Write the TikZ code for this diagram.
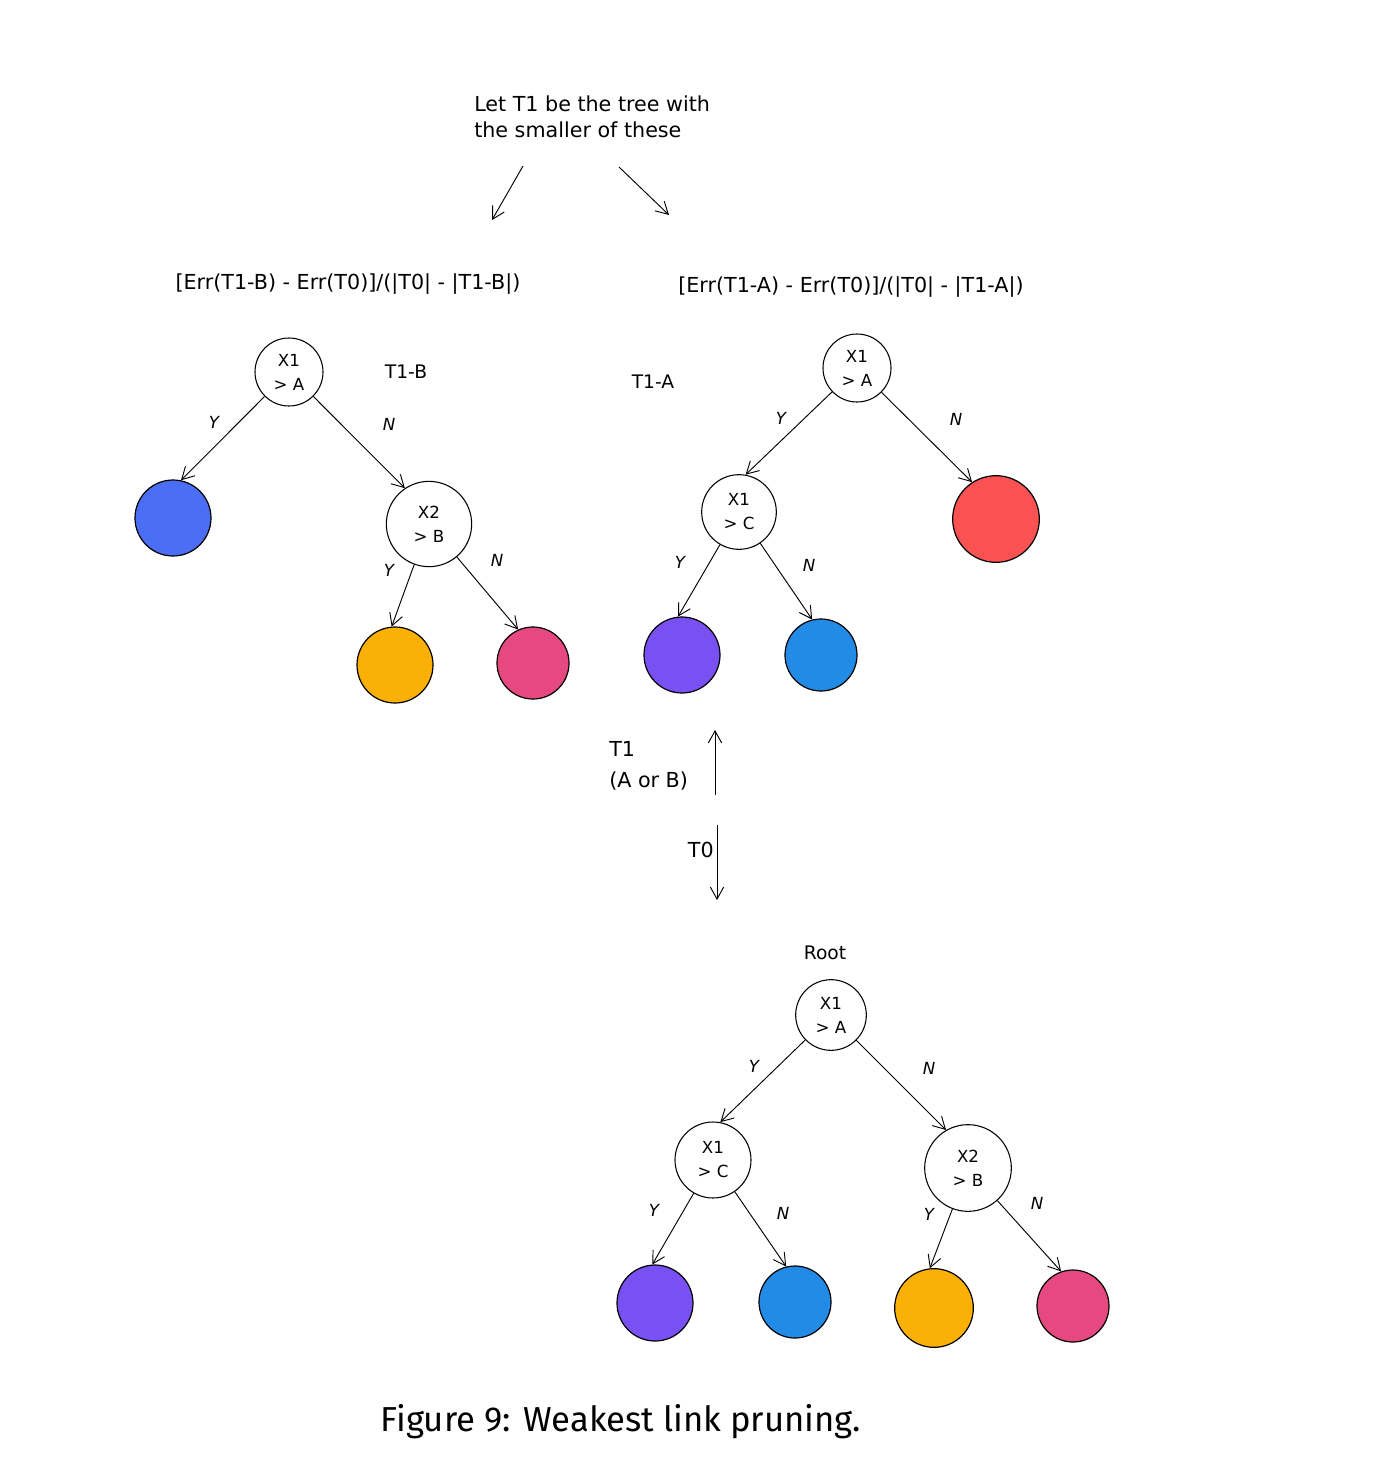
\documentclass[tikz,border=0pt]{standalone}
\usepackage{fontspec}
\setmainfont{DejaVu Sans}
\newfontfamily\capfont{Fira Sans}
\usepackage{tikz}
\usetikzlibrary{positioning, arrows.meta}
\definecolor{leafblue}{HTML}{4C6EF5}
\definecolor{leafsky}{HTML}{228BE6}
\definecolor{leafviolet}{HTML}{7950F2}
\definecolor{leafred}{HTML}{FA5252}
\definecolor{leafpink}{HTML}{E64980}
\definecolor{leaforange}{HTML}{FAB005}

\begin{document}
\begin{tikzpicture}[
  x=0.75pt, y=-0.75pt,
  hand/.style={font=\fontsize{15.5}{19}\selectfont, align=left, inner sep=0pt},
  dec/.style={draw, circle, line width=0.8pt, minimum size=52pt, inner sep=0pt,
              align=center, font=\fontsize{12.5}{18}\selectfont},
  leaf/.style={draw, circle, line width=0.9pt, minimum size=57pt, inner sep=0pt},
  yn/.style={font=\fontsize{12.5}{14}\selectfont\itshape, inner sep=0pt},
  arr/.style={-{Straight Barb[length=9pt, width=10pt]}, line width=0.7pt},
]
  \useasboundingbox (0,0) rectangle (1398,1464);

  % Note on top
  \node[hand, anchor=north west] (note) at (474,96)
    {Let T1 be the tree with\\the smaller of these};
  \coordinate (noteL1) at (523,166);
  \coordinate (noteL2) at (492,220);
  \coordinate (noteR1) at (619,167);
  \coordinate (noteR2) at (669,215);
  \draw[arr] (noteL1) -- (noteL2);
  \draw[arr] (noteR1) -- (noteR2);

  % Ratios
  \node[hand] (ratioB) at (348,284) {[Err(T1-B) - Err(T0)]/(|T0| - |T1-B|)};
  \node[hand] (ratioA) at (851,287) {[Err(T1-A) - Err(T0)]/(|T0| - |T1-A|)};

  % Pruned tree T1-B (LEFT)
  \node[hand, font=\fontsize{14}{16}\selectfont] (nameB) at (406,372) {T1-B};
  \node[dec, minimum size=51pt] (b0) at (289,372) {X1\\> A};
  \node[leaf, fill=leafblue] (b1) at (173,518) {};
  \node[dec, minimum size=64pt] (b2) at (429,524) {X2\\> B};
  \node[leaf, fill=leaforange] (b3) at (395,665) {};
  \node[leaf, fill=leafpink, minimum size=54pt] (b4) at (533,663) {};

  \draw[arr] (b0) -- (b1.78);
  \draw[arr] (b0) -- (b2.124);
  \draw[arr] (b2) -- (b3.95);
  \draw[arr] (b2) -- (b4.114);

  \node[yn] (bY1) at (214,422) {Y};
  \node[yn] (bN1) at (389,424) {N};
  \node[yn] (bY2) at (389,570) {Y};
  \node[yn] (bN2) at (497,560) {N};

  % Pruned tree T1-A (RIGHT)
  \node[hand, font=\fontsize{14}{16}\selectfont] (nameA) at (653,382) {T1-A};
  \node[dec, minimum size=51pt] (a0) at (857,368) {X1\\> A};
  \node[dec, minimum size=56pt] (a1) at (739,512) {X1\\> C};
  \node[leaf, fill=leafred, minimum size=65pt] (a2) at (996,519) {};
  \node[leaf, fill=leafviolet] (a3) at (682,655) {};
  \node[leaf, fill=leafsky, minimum size=54pt] (a4) at (821,655) {};

  \draw[arr] (a0) -- (a1.80);
  \draw[arr] (a0) -- (a2.123);
  \draw[arr] (a1) -- (a3.96);
  \draw[arr] (a1) -- (a4.104);

  \node[yn] (aY1) at (781,418) {Y};
  \node[yn] (aN1) at (956,419) {N};
  \node[yn] (aY2) at (680,562) {Y};
  \node[yn] (aN2) at (809,565) {N};

  % T0 <-> T1
  \coordinate (upS) at (715,795);
  \coordinate (upE) at (715,730);
  \coordinate (downS) at (717,825);
  \coordinate (downE) at (717,900);
  \draw[arr] (upS) -- (upE);
  \draw[arr] (downS) -- (downE);
  \node[hand, font=\fontsize{15.5}{23}\selectfont, anchor=west] (t1lbl) at (609,766) {T1\\(A or B)};
  \node[hand, anchor=east] (t0lbl) at (714,850) {T0};

  % Full tree T0 (BOTTOM)
  \node[hand, font=\fontsize{14}{16}\selectfont] (rootlbl) at (825,953) {Root};
  \node[dec, minimum size=53pt] (r0) at (831,1015) {X1\\> A};
  \node[dec, minimum size=57pt] (r1) at (713,1160) {X1\\> C};
  \node[dec, minimum size=65pt] (r2) at (968,1168) {X2\\> B};
  \node[leaf, fill=leafviolet] (r3) at (655,1303) {};
  \node[leaf, fill=leafsky, minimum size=54pt] (r4) at (795,1302) {};
  \node[leaf, fill=leaforange, minimum size=59pt] (r5) at (934,1308) {};
  \node[leaf, fill=leafpink, minimum size=54pt] (r6) at (1073,1306) {};

  \draw[arr] (r0) -- (r1.79);
  \draw[arr] (r0) -- (r2.120);
  \draw[arr] (r1) -- (r3.94);
  \draw[arr] (r1) -- (r4.104);
  \draw[arr] (r2) -- (r5.96);
  \draw[arr] (r2) -- (r6.109);

  \node[yn] (rY1) at (754,1066) {Y};
  \node[yn] (rN1) at (929,1068) {N};
  \node[yn] (rY2) at (654,1210) {Y};
  \node[yn] (rN2) at (783,1213) {N};
  \node[yn] (rY3) at (929,1214) {Y};
  \node[yn] (rN3) at (1037,1203) {N};

  % Caption
  \node[font=\capfont\fontsize{26}{30}\selectfont, inner sep=0pt] (caption) at (621,1422)
    {Figure 9: Weakest link pruning.};
\end{tikzpicture}
\end{document}
